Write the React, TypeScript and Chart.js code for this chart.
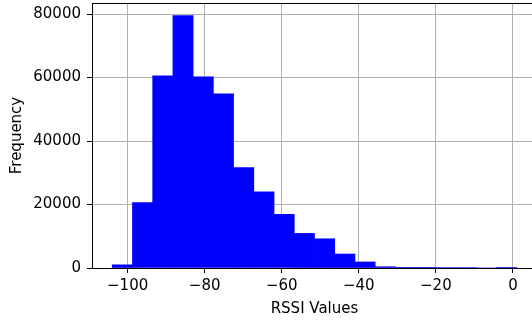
import React, { useEffect, useRef } from "react";
import { Chart, registerables } from "chart.js";

Chart.register(...registerables);

// Histogram bin edges (RSSI values)
const binEdges = [
  -104, -98.75, -93.5, -88.25, -83, -77.75, -72.5, -67.25, -62, -56.75, -51.5,
  -46.25, -41, -35.75, -30.5, -25.25, -20, -14.75, -9.5, -4.25, 1,
];
// Frequency per bin
const counts = [
  1000, 20600, 60500, 79500, 60200, 54900, 31600, 24000, 16900, 10900, 9200,
  4400, 1900, 400, 30, 30, 150, 150, 0, 120,
];
const xTicks = [-100, -80, -60, -40, -20, 0];
const yTicks = [0, 20000, 40000, 60000, 80000];
const xTitle = "RSSI Values";
const yTitle = "Frequency";

const FONT = "'DejaVu Sans', sans-serif";

export default function App() {
  const ref = useRef<HTMLCanvasElement | null>(null);

  useEffect(() => {
    document.body.style.margin = "0";
    const canvas = ref.current;
    if (!canvas) return;

    const points = counts.map((c, i) => ({
      x: (binEdges[i] + binEdges[i + 1]) / 2,
      y: c,
    }));
    const lo = binEdges[0];
    const hi = binEdges[binEdges.length - 1];
    const span = hi - lo;
    const yMax = Math.max(...counts) * 1.05;

    const fmt = (v: number) => (v < 0 ? "\u2212" + Math.abs(v) : String(v));

    const boxPlugin = {
      id: "box",
      afterDraw(chart: any) {
        const { ctx, chartArea } = chart;
        ctx.save();
        ctx.strokeStyle = "#000";
        ctx.lineWidth = 1;
        ctx.strokeRect(
          Math.round(chartArea.left) + 0.5,
          Math.round(chartArea.top) + 0.5,
          Math.round(chartArea.right - chartArea.left),
          Math.round(chartArea.bottom - chartArea.top)
        );
        ctx.restore();
      },
    };

    const chart = new Chart(canvas, {
      type: "bar",
      data: {
        datasets: [
          {
            data: points,
            backgroundColor: "#0000ff",
            borderWidth: 0,
            barPercentage: 1,
            categoryPercentage: 1,
            grouped: false,
          },
        ],
      },
      options: {
        responsive: false,
        animation: false,
        devicePixelRatio: 1,
        layout: { padding: { left: 0, right: 8, top: 3, bottom: 0 } },
        plugins: {
          legend: { display: false },
          tooltip: { enabled: false },
        },
        scales: {
          x: {
            type: "linear",
            min: lo - 0.05 * span,
            max: hi + 0.05 * span,
            offset: false,
            z: 1,
            afterBuildTicks: (s: any) => {
              s.ticks = xTicks.map((v) => ({ value: v }));
            },
            afterFit: (s: any) => {
              s.height = 52;
              s.paddingLeft = 0;
              s.paddingRight = 0;
            },
            grid: {
              offset: false,
              color: "#b0b0b0",
              lineWidth: 1,
              tickLength: 5,
              tickColor: "#000",
            },
            border: { color: "#000", width: 1 },
            ticks: {
              color: "#000",
              font: { family: FONT, size: 15 },
              padding: 4,
              maxRotation: 0,
              autoSkip: false,
              callback: (v: any) => fmt(Number(v)),
            },
            title: {
              display: true,
              text: xTitle,
              color: "#000",
              font: { family: FONT, size: 15 },
              padding: { top: 0, bottom: 2 },
            },
          },
          y: {
            type: "linear",
            min: 0,
            max: yMax,
            z: 1,
            afterBuildTicks: (s: any) => {
              s.ticks = yTicks.map((v) => ({ value: v }));
            },
            afterFit: (s: any) => {
              s.width = 92;
              s.paddingTop = 0;
              s.paddingBottom = 0;
            },
            grid: {
              color: "#b0b0b0",
              lineWidth: 1,
              tickLength: 5,
              tickColor: "#000",
            },
            border: { color: "#000", width: 1 },
            ticks: {
              color: "#000",
              font: { family: FONT, size: 15 },
              padding: 6,
              autoSkip: false,
              callback: (v: any) => fmt(Number(v)),
            },
            title: {
              display: true,
              text: yTitle,
              color: "#000",
              font: { family: FONT, size: 15 },
              padding: { top: 8, bottom: 0 },
            },
          },
        },
      },
      plugins: [boxPlugin],
    });

    return () => chart.destroy();
  }, []);

  return (
    <div
      style={{
        width: 532,
        height: 320,
        overflow: "hidden",
        position: "relative",
        background: "#fff",
      }}
    >
      <canvas
        ref={ref}
        width={545}
        height={320}
        style={{ width: 545, height: 320, display: "block" }}
      />
    </div>
  );
}
